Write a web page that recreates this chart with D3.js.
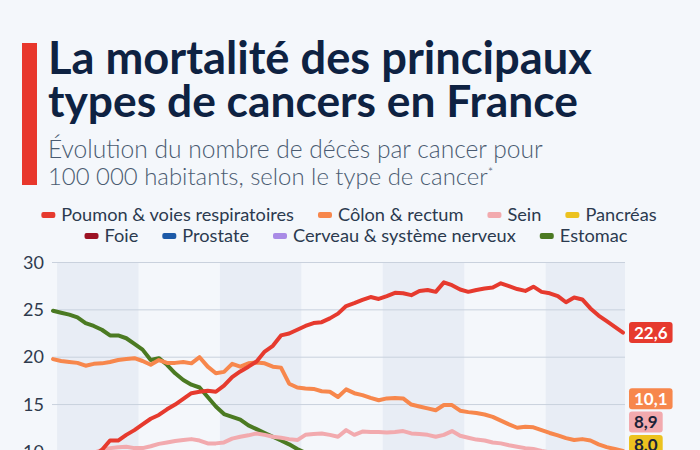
<!DOCTYPE html>
<html>
<head>
<meta charset="utf-8">
<script src="https://cdn.jsdelivr.net/npm/d3@7"></script>
<style>
html, body { margin: 0; padding: 0; background: #f4f7fb; overflow: hidden; }
svg { display: block; font-family: "Source Sans Pro", Lato, "Open Sans", sans-serif; }
</style>
</head>
<body>
<svg width="700" height="450"></svg>
<script>
// years of the yearly series
const years = d3.range(1950, 2021);
// coarser years for the series that stay below the visible part
const yearsCoarse = [1950, 1955, 1960, 1965, 1970, 1975, 1980, 1985, 1990, 1995, 2000, 2005, 2010, 2015, 2020];

const poumon = [7.2, 7.6, 8.1, 8.6, 9.1, 9.6, 10.2, 11.2, 11.2, 11.8,
  12.3, 12.9, 13.5, 13.9, 14.5, 15.0, 15.6, 16.2, 16.35, 16.45,
  16.35, 17.0, 17.9, 18.5, 19.0, 19.55, 20.6, 21.2, 22.3, 22.5,
  22.9, 23.3, 23.6, 23.7, 24.1, 24.6, 25.4, 25.7, 26.05, 26.35,
  26.15, 26.45, 26.8, 26.75, 26.55, 27.0, 27.1, 26.9, 27.9, 27.6,
  27.15, 26.9, 27.1, 27.25, 27.35, 27.8, 27.5, 27.2, 27.0, 27.45,
  26.9, 26.75, 26.45, 25.8, 26.3, 26.1, 25.15, 24.4, 23.8, 23.2, 22.6];

const colon = [19.8, 19.6, 19.5, 19.4, 19.1, 19.3, 19.35, 19.5, 19.7, 19.8,
  19.9, 19.6, 19.2, 19.7, 19.4, 19.4, 19.5, 19.35, 20.0, 19.0,
  18.3, 18.45, 19.3, 19.0, 19.35, 19.45, 19.35, 19.0, 18.9, 17.2,
  16.8, 16.7, 16.65, 16.4, 16.35, 15.8, 16.6, 16.2, 16.0, 15.7,
  15.45, 15.65, 15.7, 15.65, 15.0, 14.8, 14.6, 14.4, 14.95, 14.95,
  14.35, 14.2, 14.1, 13.95, 13.7, 13.3, 12.9, 12.55, 12.65, 12.6,
  12.3, 12.0, 11.75, 11.45, 11.25, 11.35, 11.2, 10.8, 10.5, 10.3, 10.1];

const sein = [9.3, 9.4, 9.6, 9.7, 9.8, 9.9, 10.2, 10.4, 10.5, 10.55,
  10.4, 10.4, 10.6, 10.85, 11.0, 11.15, 11.25, 11.35, 11.2, 10.9,
  10.9, 11.0, 11.4, 11.6, 11.75, 11.95, 11.8, 11.6, 11.5, 11.35,
  11.25, 11.8, 11.9, 11.95, 11.8, 11.6, 12.3, 11.8, 12.15, 12.1,
  12.1, 12.05, 12.1, 12.2, 11.95, 11.9, 11.8, 11.6, 11.8, 12.2,
  11.7, 11.5, 11.3, 11.2, 11.0, 10.9, 10.7, 10.55, 10.4, 10.3,
  10.1, 9.95, 9.8, 9.7, 9.6, 9.5, 9.35, 9.25, 9.15, 9.0, 8.9];

const estomac = [24.9, 24.7, 24.5, 24.2, 23.6, 23.3, 22.9, 22.3, 22.3, 22.0,
  21.4, 20.8, 19.7, 19.9, 19.2, 18.3, 17.6, 17.1, 16.8, 15.8,
  14.8, 14.0, 13.7, 13.4, 12.8, 12.4, 12.0, 11.6, 11.2, 10.8,
  10.3, 9.9, 9.5, 9.2, 8.9, 8.6, 8.3, 8.1, 7.8, 7.6,
  7.4, 7.2, 7.0, 6.8, 6.6, 6.5, 6.3, 6.2, 6.0, 5.9,
  5.8, 5.7, 5.6, 5.5, 5.4, 5.3, 5.2, 5.1, 5.0, 4.9,
  4.8, 4.7, 4.6, 4.5, 4.4, 4.4, 4.3, 4.2, 4.1, 4.0, 3.9];

const pancreas = [3.5, 4.0, 4.6, 5.2, 5.8, 6.3, 6.7, 7.0, 7.2, 7.3, 7.4, 7.5, 7.7, 7.9, 8.0];
const foie = [6.0, 6.3, 6.6, 7.0, 7.3, 7.5, 7.6, 7.4, 7.2, 7.0, 6.6, 6.2, 5.8, 5.4, 5.0];
const prostate = [5.5, 5.8, 6.1, 6.4, 6.7, 7.0, 7.3, 7.6, 7.9, 7.5, 7.0, 6.3, 5.6, 5.0, 4.5];
const cerveau = [1.5, 1.8, 2.1, 2.5, 2.9, 3.2, 3.5, 3.6, 3.7, 3.7, 3.6, 3.6, 3.5, 3.5, 3.5];

const yTicks = [0, 5, 10, 15, 20, 25, 30];

// legend order, two rows
const series = [
  { name: "Poumon & voies respiratoires", x: years, v: poumon, color: "#e63a2e", text: "#fff", row: 0 },
  { name: "Côlon & rectum", x: years, v: colon, color: "#f7874c", text: "#fff", row: 0 },
  { name: "Sein", x: years, v: sein, color: "#f2aaae", text: "#1b2238", row: 0 },
  { name: "Pancréas", x: yearsCoarse, v: pancreas, color: "#ecc21f", text: "#1b2238", row: 0 },
  { name: "Foie", x: yearsCoarse, v: foie, color: "#9c1224", text: "#fff", row: 1 },
  { name: "Prostate", x: yearsCoarse, v: prostate, color: "#1c5aa8", text: "#fff", row: 1 },
  { name: "Cerveau & système nerveux", x: yearsCoarse, v: cerveau, color: "#a98be6", text: "#fff", row: 1 },
  { name: "Estomac", x: years, v: estomac, color: "#4b7a22", text: "#fff", row: 1 }
];

const svg = d3.select("svg");

// scales
const x = d3.scaleLinear().domain([1950, 2020]).range([53, 623]);
const y = d3.scaleLinear().domain([0, 30]).range([546.6, 262.5]);
const gridLeft = 52, gridRight = 625;

// title block
svg.append("rect").attr("x", 22).attr("y", 43).attr("width", 15).attr("height", 142).attr("fill", "#e8372c");

function fitText(t, w) {
  const size = parseFloat(t.attr("font-size"));
  const len = t.node().getComputedTextLength();
  t.attr("font-size", size * w / len);
}

const title = [["La mortalité des principaux", 74, 544], ["types de cancers en France", 117, 530]];
title.forEach(function (d) {
  const t = svg.append("text").attr("x", 48).attr("y", d[1])
    .attr("font-size", 36).attr("font-weight", 700).attr("fill", "#0e2242").text(d[0]);
  fitText(t, d[2]);
});

const subtitle = [["Évolution du nombre de décès par cancer pour", 158, 495], ["100 000 habitants, selon le type de cancer", 185, 440]];
subtitle.forEach(function (d, i) {
  const t = svg.append("text").attr("x", 48).attr("y", d[1])
    .attr("font-size", 22).attr("font-weight", 300).attr("fill", "#4a5b71").text(d[0]);
  fitText(t, d[2]);
  if (i === 1) {
    t.append("tspan").attr("dy", -8).attr("font-size", 13).text("*");
  }
});

// legend
const legendRows = [{ cx: 349, cy: 215 }, { cx: 356, cy: 236 }];
legendRows.forEach(function (r, ri) {
  const g = svg.append("g");
  let cur = 0;
  series.filter(function (s) { return s.row === ri; }).forEach(function (s) {
    g.append("rect").attr("x", cur).attr("y", r.cy - 3).attr("width", 14).attr("height", 6)
      .attr("rx", 2).attr("fill", s.color);
    const t = g.append("text").attr("x", cur + 20).attr("y", r.cy + 6)
      .attr("font-size", 18.2).attr("fill", "#2b3a4f").text(s.name);
    cur += 20 + t.node().getComputedTextLength() + 24;
  });
  const w = cur - 24;
  g.attr("transform", "translate(" + (r.cx - w / 2) + ",0)");
});

// alternating decade bands
const bands = [[1950.5, 1960.5], [1970.5, 1980.5], [1990.5, 2000.5], [2010.5, 2020.5]];
svg.append("g").selectAll("rect").data(bands).enter().append("rect")
  .attr("x", function (d) { return x(d[0]); })
  .attr("width", function (d) { return Math.min(x(d[1]), gridRight) - x(d[0]); })
  .attr("y", y(30))
  .attr("height", y(0) - y(30))
  .attr("fill", "#e8edf5");

// grid
svg.append("g").selectAll("line").data(yTicks).enter().append("line")
  .attr("x1", gridLeft).attr("x2", gridRight)
  .attr("y1", function (d) { return y(d); }).attr("y2", function (d) { return y(d); })
  .attr("stroke", "#c9d1dd").attr("stroke-width", 1);

// y axis
const yAxis = svg.append("g").attr("transform", "translate(44,0)")
  .call(d3.axisLeft(y).tickValues(yTicks).tickSize(0).tickPadding(0));
yAxis.select(".domain").remove();
yAxis.selectAll("text").attr("font-size", 18).attr("fill", "#2e3a4d")
  .attr("font-family", "\"Source Sans Pro\", Lato, \"Open Sans\", sans-serif");

// x axis (below the visible part)
const xAxis = svg.append("g").attr("transform", "translate(0," + (y(0) + 6) + ")")
  .call(d3.axisBottom(x).tickValues([1955, 1965, 1975, 1985, 1995, 2005, 2015]).tickFormat(d3.format("d")).tickSize(0));
xAxis.select(".domain").remove();

// lines, drawn bottom series first
const line = d3.line()
  .x(function (d) { return x(d[0]); })
  .y(function (d) { return y(d[1]); })
  .curve(d3.curveLinear);

svg.append("g").selectAll("path").data(series.slice().reverse()).enter().append("path")
  .attr("d", function (s) { return line(s.x.map(function (yr, i) { return [yr, s.v[i]]; })); })
  .attr("fill", "none")
  .attr("stroke", function (s) { return s.color; })
  .attr("stroke-width", 4)
  .attr("stroke-linejoin", "round")
  .attr("stroke-linecap", "round");

// end labels, overlapping ones spread around their mean
const gap = 23.3, lo = y(30), hi = y(0) - 8;
const items = series.map(function (s) {
  const last = s.v[s.v.length - 1];
  return { s: s, value: last, target: y(last) };
}).sort(function (a, b) { return a.target - b.target; });

let groups = items.map(function (d) { return { items: [d], pos: d.target }; });
function clampGroup(g) {
  const half = (g.items.length - 1) * gap / 2;
  g.pos = Math.max(lo + half, Math.min(hi - half, g.pos));
}
groups.forEach(clampGroup);
let merged = true;
while (merged) {
  merged = false;
  for (let i = 0; i < groups.length - 1; i++) {
    const a = groups[i], b = groups[i + 1];
    const aEnd = a.pos + (a.items.length - 1) * gap / 2;
    const bStart = b.pos - (b.items.length - 1) * gap / 2;
    if (bStart - aEnd < gap) {
      const all = a.items.concat(b.items);
      const g = { items: all, pos: d3.mean(all, function (d) { return d.target; }) };
      clampGroup(g);
      groups.splice(i, 2, g);
      merged = true;
      break;
    }
  }
}
groups.forEach(function (g) {
  g.items.forEach(function (d, j) { d.y = g.pos - (g.items.length - 1) * gap / 2 + j * gap; });
});

const fmt = d3.format(".1f");
const lab = svg.append("g").selectAll("g").data(items).enter().append("g")
  .attr("transform", function (d) { return "translate(629," + d.y + ")"; });
lab.each(function (d) {
  const g = d3.select(this);
  const r = g.append("rect").attr("y", -10.5).attr("height", 21).attr("rx", 3).attr("fill", d.s.color);
  const t = g.append("text").attr("x", 5).attr("y", 6).attr("font-size", 17).attr("font-weight", 700)
    .attr("fill", d.s.text).text(fmt(d.value).replace(".", ","));
  r.attr("width", t.node().getComputedTextLength() + 10);
});
</script>
</body>
</html>
